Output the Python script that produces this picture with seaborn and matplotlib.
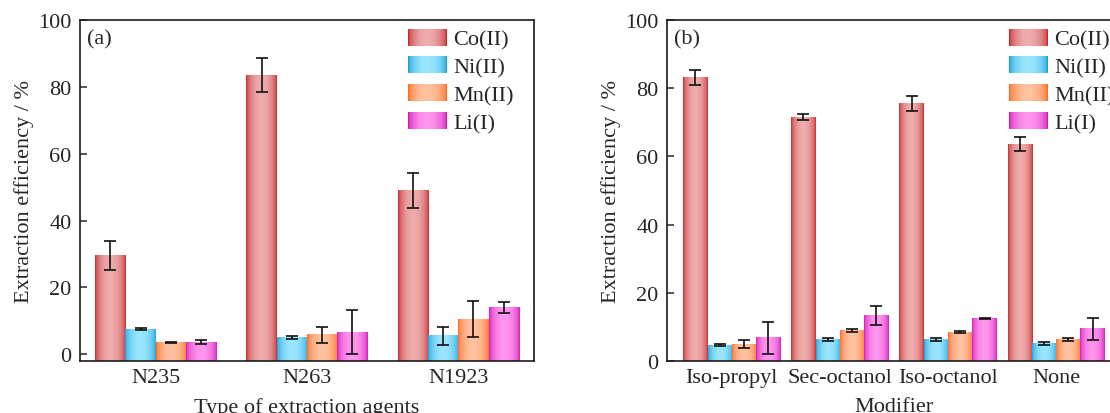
import numpy as np
import pandas as pd
import matplotlib
matplotlib.use("Agg")
import matplotlib.pyplot as plt
import seaborn as sns
from matplotlib.legend_handler import HandlerBase
from matplotlib.patches import Rectangle
from matplotlib.colors import to_rgb

# ---- data -------------------------------------------------------------
metals = ["Co(II)", "Ni(II)", "Mn(II)", "Li(I)"]

agents = ["N235", "N263", "N1923"]
agent_co = [29.5, 83.5, 49.0]
agent_ni = [7.5, 5.0, 5.5]
agent_mn = [3.5, 5.8, 10.5]
agent_li = [3.6, 6.6, 14.0]
agent_co_err = [4.4, 5.0, 5.2]
agent_ni_err = [0.3, 0.4, 2.6]
agent_mn_err = [0.2, 2.4, 5.4]
agent_li_err = [0.6, 6.6, 1.7]

modifiers = ["Iso-propyl", "Sec-octanol", "Iso-octanol", "None"]
mod_co = [83.0, 71.5, 75.6, 63.6]
mod_ni = [4.6, 6.3, 6.3, 5.2]
mod_mn = [4.9, 9.0, 8.5, 6.3]
mod_li = [6.8, 13.3, 12.5, 9.5]
mod_co_err = [2.2, 0.8, 2.2, 2.1]
mod_ni_err = [0.3, 0.4, 0.4, 0.4]
mod_mn_err = [1.2, 0.4, 0.2, 0.5]
mod_li_err = [4.7, 2.8, 0.2, 3.2]

# edge / centre colours of the shaded bars
edge_colors = ["#c62a2e", "#1aa0db", "#ff6a20", "#d418ba"]
center_colors = ["#eeacac", "#9be6fd", "#ffc2a0", "#ff96ee"]


def long_table(cats, vals, errs):
    rows = []
    for m, v_list, e_list in zip(metals, vals, errs):
        for c, v, e in zip(cats, v_list, e_list):
            rows.append({"cat": c, "metal": m, "value": v, "err": e})
    return pd.DataFrame(rows)


df_a = long_table(agents, [agent_co, agent_ni, agent_mn, agent_li],
                  [agent_co_err, agent_ni_err, agent_mn_err, agent_li_err])
df_b = long_table(modifiers, [mod_co, mod_ni, mod_mn, mod_li],
                  [mod_co_err, mod_ni_err, mod_mn_err, mod_li_err])


def gradient(edge, center, n=64):
    t = np.linspace(0, 1, n)
    w = np.sin(np.pi * t) ** 0.55
    e = np.array(to_rgb(edge))
    c = np.array(to_rgb(center))
    return e[None, :] + (c - e)[None, :] * w[:, None]


class GradientHandler(HandlerBase):
    def __init__(self, edge, center, n=40):
        super().__init__()
        self.cols = gradient(edge, center, n)
        self.n = n

    def create_artists(self, legend, orig_handle, xdescent, ydescent,
                       width, height, fontsize, trans):
        arts = []
        step = width / self.n
        for i, col in enumerate(self.cols):
            arts.append(Rectangle((-xdescent + i * step, -ydescent),
                                  step * 1.08, height, facecolor=col,
                                  edgecolor="none", transform=trans))
        return arts


sns.set_style("ticks")
plt.rcParams["font.family"] = ["Liberation Serif", "DejaVu Serif"]
plt.rcParams["axes.linewidth"] = 1.2
FS = 16

fig = plt.figure(figsize=(11.1, 4.14), dpi=100)
ax_a = fig.add_axes([80 / 1110, 52 / 414, 454 / 1110, 341 / 414])
ax_b = fig.add_axes([667 / 1110, 52 / 414, 454 / 1110, 341 / 414])


def draw_panel(ax, df, cats, width, xlim, ylim, tag, xlabel, leg_x):
    sns.barplot(data=df, x="cat", y="value", hue="metal", order=cats,
                hue_order=metals, width=width, errorbar=None, ax=ax,
                legend=False)
    ybot = ylim[0]
    bar_groups = list(ax.containers)
    for k, cont in enumerate(bar_groups):
        grad = gradient(edge_colors[k], center_colors[k])[None, :, :]
        sub = df[df["metal"] == metals[k]].set_index("cat").loc[cats]
        xs, tops = [], []
        for patch, v in zip(cont.patches, sub["value"]):
            x0 = patch.get_x()
            w = patch.get_width()
            patch.set_visible(False)
            ax.imshow(grad, extent=[x0, x0 + w, ybot, v], aspect="auto",
                      interpolation="bilinear", zorder=2)
            xs.append(x0 + w / 2)
            tops.append(v)
        ax.errorbar(xs, tops, yerr=sub["err"].values, fmt="none",
                    ecolor="#111111", elinewidth=1.2, capsize=4,
                    capthick=1.2, zorder=3)
    ax.set_xlim(*xlim)
    ax.set_ylim(*ylim)
    ax.set_yticks([0, 20, 40, 60, 80, 100])
    ax.tick_params(axis="y", direction="in", length=5, width=1.1,
                   labelsize=FS, pad=6)
    ax.tick_params(axis="x", direction="in", length=3, width=1.1,
                   labelsize=FS, pad=5)
    for s in ax.spines.values():
        s.set_visible(True)
        s.set_linewidth(1.2)
        s.set_color("#1a1a1a")
        s.set_zorder(4)
    ax.set_xlabel(xlabel, fontsize=FS, labelpad=7)
    ax.set_ylabel("Extraction efficiency / %", fontsize=FS, labelpad=3)
    ax.text(0.015, 0.945, tag, transform=ax.transAxes, fontsize=FS,
            va="center", ha="left")
    proxies = [Rectangle((0, 0), 1, 1) for _ in metals]
    hmap = {p: GradientHandler(e, c) for p, e, c in
            zip(proxies, edge_colors, center_colors)}
    ax.legend(proxies, metals, handler_map=hmap, loc="upper left",
              bbox_to_anchor=(leg_x, 0.975), frameon=False, fontsize=FS,
              handlelength=1.75, handleheight=0.8, handletextpad=0.3,
              labelspacing=0.3, borderpad=0, borderaxespad=0)


draw_panel(ax_a, df_a, agents, 0.8, (-0.5, 2.5), (-2, 100), "(a)",
           "Type of extraction agents", 0.722)
draw_panel(ax_b, df_b, modifiers, 0.9, (-0.6, 3.6), (0, 100), "(b)",
           "Modifier", 0.753)

fig.savefig("out.png", dpi=100)
